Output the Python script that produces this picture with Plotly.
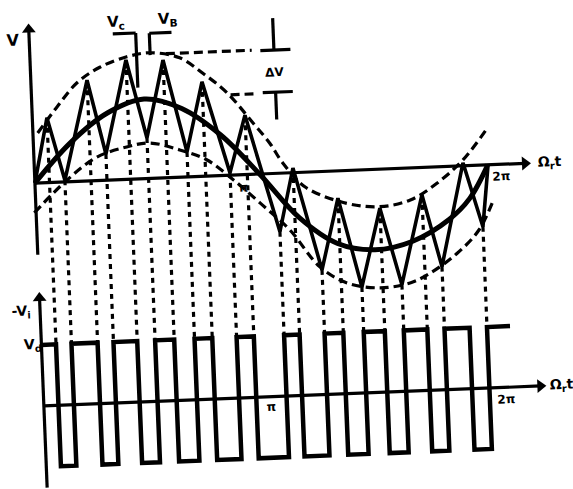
import plotly.graph_objects as go

# ---------------- data (angle in rad, values normalised to the reference amplitude) ----------
# current peaks (upper hysteresis band hits) and valleys (lower band hits)
peak_theta = [0.204, 0.785, 1.339, 1.856, 2.388, 2.969, 3.609, 4.220, 4.800, 5.394, 5.985]
peak_v = [0.83, 1.29, 1.53, 1.51, 1.21, 0.76, 0.06, -0.35, -0.50, -0.35, 0.04]
valley_theta = [0.420, 1.007, 1.589, 2.140, 2.728, 3.392, 3.958, 4.505, 5.065, 5.634, 6.228]
valley_v = [0.02, 0.335, 0.52, 0.32, 0.03, -0.75, -1.26, -1.50, -1.49, -1.28, -0.79]
zig_start = [0.0, 0.0]
zig_end = [6.33, -0.03]

# reference (commanded) sinusoid
ref_theta = [0, 0.52, 1.05, 1.57, 2.09, 2.62, 3.14, 3.67, 4.19, 4.71, 5.24, 5.76, 6.06, 6.33]
ref_v = [0, 0.50, 0.86, 1.02, 0.88, 0.52, 0.0, -0.58, -0.93, -1.03, -0.94, -0.68, -0.42, 0.0]

# hysteresis band limits
upper_theta = [0.067, 0.348, 0.64, 0.97, 1.353, 1.676, 2.09, 2.405, 2.73, 3.075, 3.30, 3.47,
               3.77, 4.34, 4.80, 5.23, 5.61, 5.99, 6.36]
upper_v = [0.64, 0.96, 1.26, 1.45, 1.57, 1.61, 1.53, 1.32, 1.06, 0.66, 0.39, 0.13,
           -0.19, -0.42, -0.48, -0.41, -0.21, 0.08, 0.49]
lower_theta = [-0.025, 0.447, 0.878, 1.30, 1.626, 2.04, 2.41, 2.77, 3.13, 3.53, 3.93, 4.30,
               4.76, 5.19, 5.46, 5.85, 6.17, 6.39]
lower_v = [-0.38, 0.02, 0.30, 0.415, 0.454, 0.35, 0.21, -0.06, -0.37, -0.73, -1.22, -1.44,
           -1.52, -1.47, -1.36, -1.12, -0.83, -0.45]

# inverter output: +Vd / -Vd levels, switching at the peaks / valleys
sq_high, sq_low = 1, -1
sq_end_theta = 6.55

# ---------------- layout constants (positions / styles only) ----------------
SQ_Y0 = -2.859     # where the lower (output voltage) panel's zero line sits
SQ_AMP = 0.782     # drawing height of one Vd
BLACK = "#000000"
FONT = "DejaVu Sans"
BAND_DASH = "9px,5px"
DOT_DASH = "5px,5px"


def sq(level):
    return SQ_Y0 + SQ_AMP * level


fig = go.Figure()

# hysteresis band (dashed)
for tx, ty in ((upper_theta, upper_v), (lower_theta, lower_v)):
    fig.add_trace(go.Scatter(x=tx, y=ty, mode="lines", hoverinfo="skip",
                             line=dict(color=BLACK, width=3.2, dash=BAND_DASH,
                                       shape="spline", smoothing=1)))

# reference sine
fig.add_trace(go.Scatter(x=ref_theta, y=ref_v, mode="lines", hoverinfo="skip",
                         line=dict(color=BLACK, width=5, shape="spline", smoothing=1)))

# dotted projections from each switching point to the output waveform
# (the last peak sits on the axis and has no projection in the original)
dx, dy = [], []
switch_pts = list(zip(peak_theta[:-1], peak_v[:-1])) + list(zip(valley_theta, valley_v))
for t, v in switch_pts:
    dx += [t, t, None]
    dy += [v, sq(sq_high), None]
fig.add_trace(go.Scatter(x=dx, y=dy, mode="lines", hoverinfo="skip",
                         line=dict(color=BLACK, width=3.2, dash=DOT_DASH)))

# actual current zig-zag
zx, zy = [zig_start[0]], [zig_start[1]]
for pt, pv, vt, vv in zip(peak_theta, peak_v, valley_theta, valley_v):
    zx += [pt, vt]
    zy += [pv, vv]
zx.append(zig_end[0])
zy.append(zig_end[1])
fig.add_trace(go.Scatter(x=zx, y=zy, mode="lines", hoverinfo="skip",
                         line=dict(color=BLACK, width=3.6)))

# square-wave output voltage
qx, qy = [0.0], [sq(sq_high)]
for pt, vt in zip(peak_theta, valley_theta):
    qx += [pt, vt]
    qy += [sq(sq_low), sq(sq_high)]
qx.append(sq_end_theta)
qy.append(sq(sq_high))
fig.add_trace(go.Scatter(x=qx, y=qy, mode="lines", hoverinfo="skip",
                         line=dict(color=BLACK, width=4.5, shape="hv")))


# axes with arrow heads
def axis_arrow(x0, y0, x1, y1, symbol):
    fig.add_trace(go.Scatter(x=[x0, x1], y=[y0, y1], mode="lines", hoverinfo="skip",
                             line=dict(color=BLACK, width=3.2)))
    fig.add_trace(go.Scatter(x=[x1], y=[y1], mode="markers", hoverinfo="skip",
                             marker=dict(symbol=symbol, size=12, color=BLACK,
                                         line=dict(width=0))))


axis_arrow(0, 0, 6.85, 0, "triangle-right")
axis_arrow(0, -0.92, 0, 1.97, "triangle-up")
axis_arrow(0, sq(0), 6.94, sq(0), "triangle-right")
axis_arrow(0, sq(-1.34), 0, sq(1.77), "triangle-up")


def label(x, y, text, size=12, xanchor="center"):
    return dict(x=x, y=y, xref="x", yref="y", text="<b>%s</b>" % text, showarrow=False,
                xanchor=xanchor, yanchor="middle",
                font=dict(family=FONT, size=size, color=BLACK))


annotations = [
    # labels, upper panel
    label(-0.23, 1.84, "V", 16),
    label(1.22, 2.02, "V<sub>c</sub>", 15),
    label(1.95, 2.03, "V<sub>B</sub>", 15),
    label(3.41, 1.30, "ΔV", 12),
    label(7.0, 0.0, "Ω<sub>r</sub>t", 14, "left"),
    label(6.52, -0.16, "2π", 12),
    label(2.91, -0.17, "π", 12),
    # labels, lower panel
    label(-0.26, sq(1.55), "-V<sub>i</sub>", 14),
    label(-0.12, sq(1.0), "V<sub>d</sub>", 14),
    label(7.05, sq(0.0), "Ω<sub>r</sub>t", 14, "left"),
    label(6.46, sq(-0.19), "2π", 12),
    label(3.17, sq(-0.17), "π", 12),
]


def seg(x0, y0, x1, y1, dash="solid", width=3.2):
    return dict(type="line", xref="x", yref="y", x0=x0, y0=y0, x1=x1, y1=y1,
                line=dict(color=BLACK, width=width, dash=dash))


shapes = [
    # delta-V marker
    seg(3.41, 1.58, 3.41, 1.99),
    seg(3.22, 1.58, 3.64, 1.58),
    seg(3.23, 1.04, 3.65, 1.04),
    seg(3.41, 1.04, 3.41, 0.69),
    seg(1.90, 1.59, 3.10, 1.59, BAND_DASH),
    seg(2.78, 1.03, 3.10, 1.03, BAND_DASH),
    # Vc / VB brackets
    seg(1.17, 1.87, 1.49, 1.87),
    seg(1.49, 1.87, 1.49, 1.17),
    seg(1.68, 1.86, 1.99, 1.86),
    seg(1.68, 1.86, 1.68, 1.58),
]

fig.update_layout(
    width=573, height=489,
    margin=dict(l=0, r=0, t=0, b=0),
    paper_bgcolor="white", plot_bgcolor="white",
    showlegend=False,
    xaxis=dict(visible=False, range=[-0.525, 7.478], fixedrange=True),
    yaxis=dict(visible=False, range=[-4.051, 2.218], fixedrange=True),
    annotations=annotations,
    shapes=shapes,
)

# the scanned original is rotated by about 2.3 degrees
post = ("document.body.style.margin='0';"
        "var gd=document.getElementById('{plot_id}');"
        "gd.style.transformOrigin='286.5px 244.5px';"
        "gd.style.transform='rotate(-2.3deg)';")

fig.write_html("out.html", post_script=post)
